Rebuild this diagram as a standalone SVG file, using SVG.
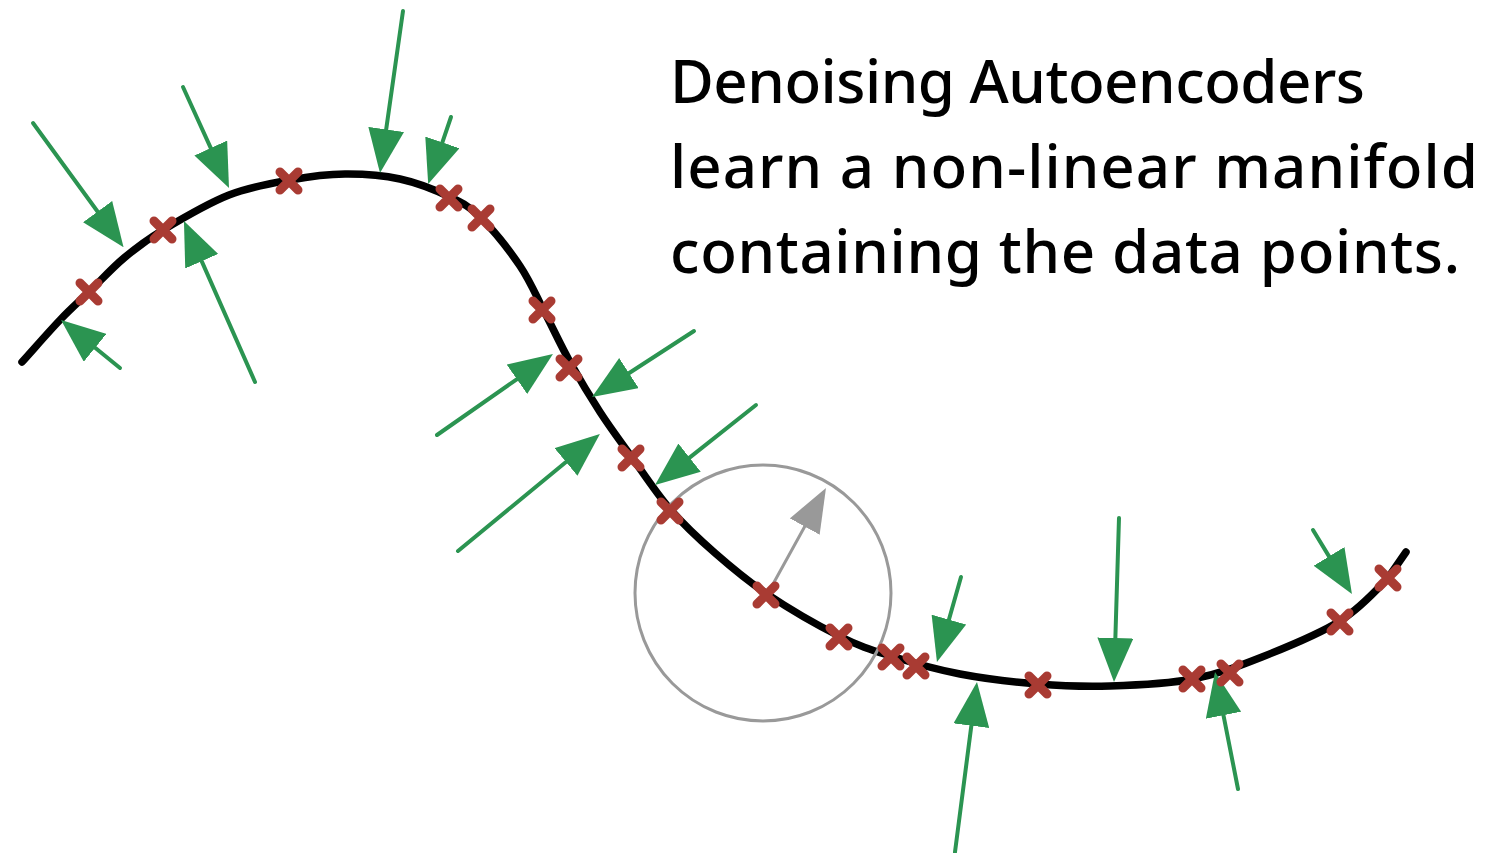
<svg xmlns="http://www.w3.org/2000/svg" width="1489" height="853" viewBox="0 0 1489 853">
  <style>
    .curve { fill: none; stroke: #000; stroke-width: 7.5; stroke-linecap: round; stroke-linejoin: round; }
    .arrow { fill: none; stroke: #2b9451; stroke-width: 4; stroke-linecap: round; marker-end: url(#ahG); }
    .garrow { fill: none; stroke: #999; stroke-width: 3; stroke-linecap: round; marker-end: url(#ahK); }
    .circ { fill: none; stroke: #999; stroke-width: 3; }
    .xm { stroke: #a93b33; stroke-width: 9; stroke-linecap: round; fill: none; }
    .txt { font-family: "Comic Sans MS", "Noto Sans", "DejaVu Sans", sans-serif; font-size: 60px; font-weight: 500; fill: #000; }
  </style>
  <defs>
    <marker id="ahG" viewBox="0 0 44 36" refX="2" refY="18" markerWidth="44" markerHeight="36" markerUnits="userSpaceOnUse" orient="auto">
      <path d="M0,0 L44,18 L0,36 z" fill="#2b9451"/>
    </marker>
    <marker id="ahK" viewBox="0 0 44 34" refX="2" refY="17" markerWidth="44" markerHeight="34" markerUnits="userSpaceOnUse" orient="auto">
      <path d="M0,0 L44,17 L0,34 z" fill="#999"/>
    </marker>
    <path id="xmark" class="xm" d="M-9,-9 L9,9 M-9,9 L9,-9"/>
  </defs>
  <rect width="1489" height="853" fill="#fff"/>

  <g id="manifold">
    <path class="curve" d="M22,362 C34.67,348 48.67,331.83 60,320 C71.33,308.17 79.33,301.33 90,291 C100.67,280.67 111.83,268.17 124,258 C136.17,247.83 145.5,240.5 163,230 C180.5,219.5 207.83,203.33 229,195 C250.17,186.67 270.67,183.5 290,180 C309.33,176.5 326.67,174.17 345,174 C363.33,173.83 382.5,175.17 400,179 C417.5,182.83 436.5,190.5 450,197 C463.5,203.5 469.33,206.5 481,218 C492.67,229.5 509.33,250.17 520,266 C530.67,281.83 536.67,297 545,313 C553.33,329 560.83,345.5 570,362 C579.17,378.5 589.83,396.33 600,412 C610.17,427.67 619.33,439.83 631,456 C642.67,472.17 656,492.83 670,509 C684,525.17 698.83,538.83 715,553 C731.17,567.17 746.33,580.17 767,594 C787.67,607.83 818.33,625.67 839,636 C859.67,646.33 870.83,649.67 891,656 C911.17,662.33 935.5,669.33 960,674 C984.5,678.67 1013,682 1038,684 C1063,686 1084.17,686.83 1110,686 C1135.83,685.17 1167.67,683.83 1193,679 C1218.33,674.17 1237.5,666.67 1262,657 C1286.5,647.33 1319,634.17 1340,621 C1361,607.830 1377,589.5 1388,578 C1394,569.33 1400,560.67 1406,552"/>
  </g>

  <g id="neighbourhood">
    <circle class="circ" cx="763" cy="593" r="128"/>
  </g>

  <g id="connectors">
    <line class="arrow" x1="33" y1="123" x2="98.8" y2="213.2"/>
    <line class="arrow" x1="183" y1="87" x2="211.6" y2="149.8"/>
    <line class="arrow" x1="403" y1="11" x2="385.9" y2="131.4"/>
    <line class="arrow" x1="451" y1="117" x2="441.7" y2="144.3"/>
    <line class="arrow" x1="255" y1="382" x2="200.9" y2="259.4"/>
    <line class="arrow" x1="120" y1="368" x2="93.6" y2="346.5"/>
    <line class="arrow" x1="437" y1="435" x2="518.5" y2="378.1"/>
    <line class="arrow" x1="694" y1="331" x2="627.3" y2="374.2"/>
    <line class="arrow" x1="458" y1="551" x2="567.5" y2="460.7"/>
    <line class="arrow" x1="756" y1="405" x2="688" y2="458.9"/>
    <line class="arrow" x1="961" y1="577" x2="948.4" y2="621.5"/>
    <line class="arrow" x1="1119" y1="518" x2="1115.3" y2="640"/>
    <line class="arrow" x1="955" y1="852" x2="971.6" y2="723.7"/>
    <line class="arrow" x1="1238" y1="789" x2="1223.1" y2="713.3"/>
    <line class="arrow" x1="1313" y1="530" x2="1330.1" y2="558.1"/>
    <line class="garrow" x1="767" y1="595" x2="805.7" y2="524.8"/>
  </g>

  <g id="datapoints">
    <use href="#xmark" x="89" y="292"/>
    <use href="#xmark" x="163" y="230"/>
    <use href="#xmark" x="289" y="181"/>
    <use href="#xmark" x="449" y="198"/>
    <use href="#xmark" x="481" y="218"/>
    <use href="#xmark" x="542" y="310"/>
    <use href="#xmark" x="569" y="368"/>
    <use href="#xmark" x="631" y="458"/>
    <use href="#xmark" x="670" y="511"/>
    <use href="#xmark" x="766" y="595"/>
    <use href="#xmark" x="839" y="637"/>
    <use href="#xmark" x="891" y="657"/>
    <use href="#xmark" x="916" y="666"/>
    <use href="#xmark" x="1038" y="685"/>
    <use href="#xmark" x="1192" y="679"/>
    <use href="#xmark" x="1230" y="673"/>
    <use href="#xmark" x="1340" y="622"/>
    <use href="#xmark" x="1388" y="578"/>
  </g>

  <g id="caption">
    <text class="txt" x="670" y="103" textLength="695" lengthAdjust="spacing">Denoising Autoencoders</text>
    <text class="txt" x="670" y="188" textLength="808" lengthAdjust="spacing">learn a non-linear manifold</text>
    <text class="txt" x="670" y="273" textLength="790" lengthAdjust="spacing">containing the data points.</text>
  </g>
</svg>
